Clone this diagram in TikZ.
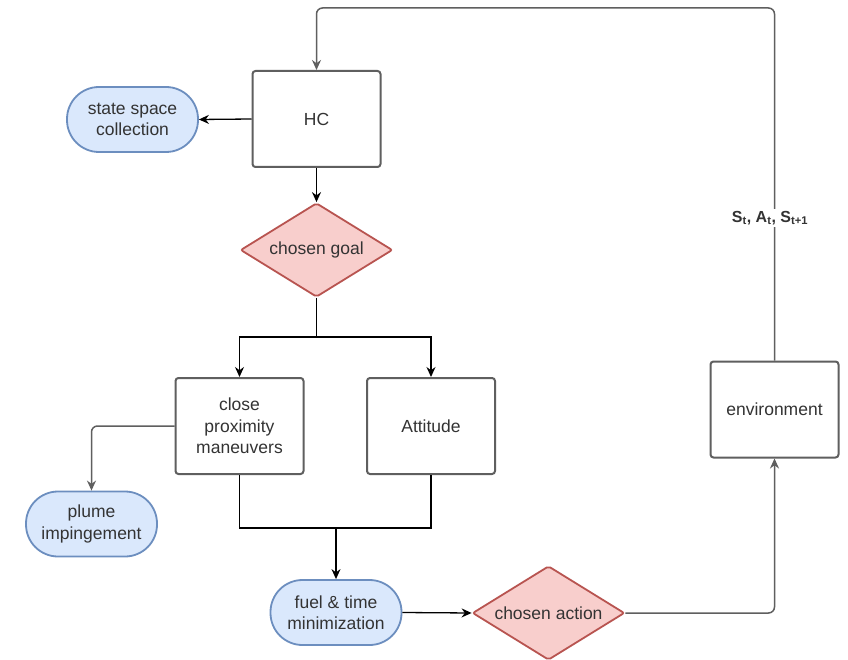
\documentclass[tikz,border=0pt]{standalone}
\usepackage{fontspec}
\setmainfont{Liberation Sans}
\usetikzlibrary{shapes.geometric,arrows.meta}
\definecolor{boxline}{HTML}{5F5F5F}
\definecolor{txt}{HTML}{333333}
\definecolor{bluefill}{HTML}{DAE8FC}
\definecolor{blueline}{HTML}{6C8EBF}
\definecolor{redfill}{HTML}{F8CECC}
\definecolor{redline}{HTML}{B85450}
\definecolor{wire}{HTML}{5F5F5F}
\tikzset{
  every node/.style={font=\fontsize{17.5}{21.5}\selectfont, text=txt, align=center},
  stepbox/.style={draw=boxline, line width=2pt, fill=white, rounded corners=3pt,
    minimum width=128pt, minimum height=96pt, inner sep=2pt},
  pill/.style={draw=blueline, line width=1.8pt, fill=bluefill, rounded corners=32pt,
    minimum width=131pt, minimum height=65pt, inner sep=2pt},
  choice/.style={diamond, aspect=1.6, draw=redline, line width=1.8pt, fill=redfill,
    rounded corners=2pt, minimum width=152pt, minimum height=94pt, inner sep=0pt},
  arr/.style={draw=black, line width=1.3pt, -{Stealth[length=10pt,width=9pt]}},
  plain/.style={draw=black, line width=1.3pt},
  garr/.style={draw=wire, line width=1.5pt, rounded corners=6pt, -{Stealth[length=10pt,width=9pt]}},
}
\begin{document}
\begin{tikzpicture}[x=1pt,y=-1pt]
  \fill[white] (0,0) rectangle (848,660);
  \useasboundingbox (0,0) rectangle (848,660);

  % nodes
  \node[stepbox] (hc)   at (316.5,119) {HC};
  \node[pill]    (ssc)  at (132.5,119.5) {state space\\collection};
  \node[choice]  (goal) at (316.5,250) {chosen goal};
  \node[stepbox] (cpm)  at (239.5,426) {close\\proximity\\maneuvers};
  \node[stepbox] (att)  at (431,426) {Attitude};
  \node[pill]    (plume) at (91.5,524) {plume\\impingement};
  \node[pill]    (fuel) at (336,612.5) {fuel \& time\\minimization};
  \node[choice]  (act)  at (548.5,613) {chosen action};
  \node[stepbox] (env)  at (774.5,409.5) {environment};

  % routing points
  \coordinate (split) at (316.5,337);
  \coordinate (join)  at (336,528);
  \coordinate (loop)  at (774.5,8);

  % connectors
  \draw[arr] (hc.west) -- (ssc.east);
  \draw[arr] (hc.south) -- (goal.north);
  \draw[plain] (goal.south) -- (split);
  \draw[arr] (split) -| (cpm.north);
  \draw[arr] (split) -| (att.north);
  \draw[garr] (cpm.west) -| (plume.north);
  \draw[plain] (cpm.south) |- (join) -| (att.south);
  \draw[arr] (join) -- (fuel.north);
  \draw[arr] (fuel.east) -- (act.west);
  \draw[garr] (act.east) -| (env.south);
  \draw[garr] (env.north) -- (loop) -| (hc.north);

  % feedback label
  \node[fill=white, inner sep=2pt, font=\bfseries\fontsize{16}{19}\selectfont]
    (lbl) at (770,218) {S\textsubscript{t}, A\textsubscript{t}, S\textsubscript{t+1}};
\end{tikzpicture}
\end{document}
